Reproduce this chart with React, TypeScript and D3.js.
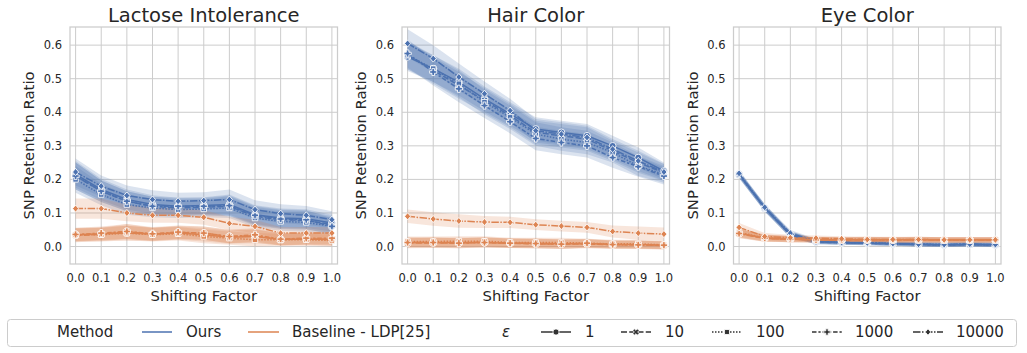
import React from "react";
import * as d3 from "d3";

// ---------- DATA ----------
const shiftingFactors = [0, 0.1, 0.2, 0.3, 0.4, 0.5, 0.6, 0.7, 0.8, 0.9, 1.0];
const epsilonLabels = ["1", "10", "100", "1000", "10000"];
const methodLabels = ["Ours", "Baseline - LDP[25]"];
const panelTitles = ["Lactose Intolerance", "Hair Color", "Eye Color"];
const yTicks = [0.0, 0.1, 0.2, 0.3, 0.4, 0.5, 0.6];
const xTicks = [0, 0.1, 0.2, 0.3, 0.4, 0.5, 0.6, 0.7, 0.8, 0.9, 1.0];

// rows: epsilon 1, 10, 100, 1000, 10000
const lactoseOurs = [
  [0.215, 0.17, 0.14, 0.125, 0.12, 0.122, 0.125, 0.095, 0.085, 0.083, 0.07],
  [0.21, 0.165, 0.135, 0.12, 0.115, 0.117, 0.12, 0.09, 0.08, 0.078, 0.065],
  [0.2, 0.155, 0.125, 0.115, 0.11, 0.112, 0.115, 0.085, 0.075, 0.072, 0.06],
  [0.21, 0.165, 0.135, 0.12, 0.12, 0.12, 0.122, 0.093, 0.082, 0.08, 0.06],
  [0.222, 0.18, 0.152, 0.14, 0.135, 0.137, 0.14, 0.11, 0.098, 0.093, 0.08],
];
const lactoseOursCI = [0.04, 0.032, 0.03, 0.028, 0.025, 0.025, 0.03, 0.028, 0.028, 0.028, 0.025];
const lactoseBase = [
  [0.035, 0.038, 0.04, 0.037, 0.04, 0.035, 0.028, 0.03, 0.022, 0.022, 0.022],
  [0.033, 0.036, 0.045, 0.036, 0.042, 0.04, 0.03, 0.032, 0.02, 0.024, 0.02],
  [0.035, 0.035, 0.04, 0.035, 0.038, 0.03, 0.025, 0.02, 0.02, 0.02, 0.018],
  [0.036, 0.04, 0.045, 0.038, 0.043, 0.04, 0.03, 0.035, 0.022, 0.025, 0.025],
  [0.113, 0.113, 0.1, 0.093, 0.093, 0.087, 0.069, 0.06, 0.04, 0.04, 0.04],
];
const lactoseBaseCI = [0.02, 0.02, 0.022, 0.02, 0.02, 0.02, 0.02, 0.02, 0.018, 0.018, 0.018];
const lactoseBaseCI10k = [0.03, 0.03, 0.025, 0.022, 0.022, 0.022, 0.02, 0.02, 0.018, 0.018, 0.018];

const hairOurs = [
  [0.565, 0.53, 0.49, 0.44, 0.395, 0.35, 0.34, 0.33, 0.3, 0.265, 0.225],
  [0.57, 0.525, 0.48, 0.435, 0.39, 0.34, 0.33, 0.32, 0.285, 0.25, 0.22],
  [0.57, 0.53, 0.485, 0.43, 0.385, 0.335, 0.32, 0.31, 0.28, 0.24, 0.215],
  [0.575, 0.52, 0.47, 0.42, 0.372, 0.322, 0.31, 0.3, 0.265, 0.238, 0.21],
  [0.605, 0.56, 0.505, 0.455, 0.405, 0.345, 0.335, 0.325, 0.29, 0.255, 0.222],
];
const hairOursCI = [0.042, 0.04, 0.04, 0.037, 0.035, 0.035, 0.035, 0.035, 0.03, 0.03, 0.025];
const hairBase = [
  [0.012, 0.012, 0.012, 0.012, 0.01, 0.01, 0.008, 0.009, 0.006, 0.006, 0.004],
  [0.01, 0.011, 0.01, 0.013, 0.01, 0.008, 0.007, 0.008, 0.005, 0.005, 0.003],
  [0.015, 0.015, 0.016, 0.016, 0.012, 0.012, 0.012, 0.01, 0.008, 0.008, 0.005],
  [0.012, 0.012, 0.01, 0.012, 0.01, 0.009, 0.007, 0.01, 0.006, 0.005, 0.004],
  [0.09, 0.082, 0.076, 0.073, 0.072, 0.065, 0.061, 0.057, 0.045, 0.04, 0.037],
];
const hairBaseCI = [0.015, 0.015, 0.015, 0.015, 0.014, 0.014, 0.014, 0.013, 0.012, 0.012, 0.012];
const hairBaseCI10k = [0.02, 0.02, 0.02, 0.018, 0.017, 0.016, 0.016, 0.016, 0.018, 0.02, 0.02];

const eyeOurs = [
  [0.215, 0.115, 0.035, 0.015, 0.012, 0.01, 0.008, 0.006, 0.005, 0.006, 0.005],
  [0.214, 0.114, 0.036, 0.014, 0.011, 0.01, 0.008, 0.006, 0.005, 0.006, 0.005],
  [0.213, 0.116, 0.034, 0.015, 0.012, 0.011, 0.009, 0.007, 0.006, 0.006, 0.005],
  [0.216, 0.115, 0.037, 0.014, 0.011, 0.01, 0.008, 0.006, 0.005, 0.007, 0.005],
  [0.218, 0.117, 0.04, 0.016, 0.012, 0.011, 0.009, 0.007, 0.006, 0.007, 0.006],
];
const eyeOursCI = [0.01, 0.01, 0.009, 0.007, 0.006, 0.006, 0.006, 0.006, 0.006, 0.006, 0.006];
const eyeBase = [
  [0.04, 0.025, 0.022, 0.02, 0.02, 0.02, 0.02, 0.02, 0.02, 0.02, 0.02],
  [0.038, 0.024, 0.022, 0.02, 0.019, 0.02, 0.019, 0.02, 0.019, 0.019, 0.019],
  [0.042, 0.026, 0.023, 0.021, 0.02, 0.021, 0.02, 0.021, 0.02, 0.02, 0.02],
  [0.039, 0.025, 0.022, 0.02, 0.02, 0.02, 0.02, 0.02, 0.02, 0.02, 0.02],
  [0.057, 0.03, 0.026, 0.025, 0.023, 0.021, 0.021, 0.021, 0.02, 0.02, 0.02],
];
const eyeBaseCI = [0.013, 0.01, 0.009, 0.008, 0.008, 0.008, 0.008, 0.008, 0.008, 0.008, 0.008];

// ---------- STYLE ----------
const W = 1027;
const H = 353;
const colors = ["#4c72b0", "#dd8452"];
const dashes = ["", "6,2.25", "1.5,1.5", "4.5,1.9,2.25,1.9", "7.5,1.5,1.5,1.5"];
const markerKinds = ["o", "X", "s", "P", "D"];
const FONT = "'DejaVu Sans', sans-serif";
const TEXT = "#262626";
const GRID = "#cccccc";

const panels = [
  { title: panelTitles[0], left: 70, ours: lactoseOurs, oursCI: [lactoseOursCI], base: lactoseBase, baseCI: [lactoseBaseCI, lactoseBaseCI10k] },
  { title: panelTitles[1], left: 402, ours: hairOurs, oursCI: [hairOursCI], base: hairBase, baseCI: [hairBaseCI, hairBaseCI10k] },
  { title: panelTitles[2], left: 733.5, ours: eyeOurs, oursCI: [eyeOursCI], base: eyeBase, baseCI: [eyeBaseCI] },
];
const PW = 267.5;
const TOP = 27;
const BOTTOM = 264;

function markerPath(kind: string, s: number): string | null {
  if (kind === "o") return null;
  if (kind === "s") {
    const h = s * 0.8;
    return `M${-h},${-h}L${h},${-h}L${h},${h}L${-h},${h}Z`;
  }
  if (kind === "D") {
    const h = s * 1.05;
    return `M0,${-h}L${h * 0.85},0L0,${h}L${-h * 0.85},0Z`;
  }
  // plus-shaped polygon
  const a = s * 1.05;
  const w = s * 0.38;
  const pts = [
    [-w, -a], [w, -a], [w, -w], [a, -w], [a, w], [w, w], [w, a], [-w, a], [-w, w], [-a, w], [-a, -w], [-w, -w],
  ];
  const ang = kind === "X" ? Math.PI / 4 : 0;
  const c = Math.cos(ang), sn = Math.sin(ang);
  return (
    "M" +
    pts.map(([x, y]) => `${(x * c - y * sn).toFixed(2)},${(x * sn + y * c).toFixed(2)}`).join("L") +
    "Z"
  );
}

function Marker({ kind, x, y, fill, s = 3.4, edge = "#ffffff" }: any) {
  const p = markerPath(kind, s);
  if (!p) return <circle cx={x} cy={y} r={s} fill={fill} stroke={edge} strokeWidth={0.85} />;
  return <path d={p} transform={`translate(${x},${y})`} fill={fill} stroke={edge} strokeWidth={0.85} />;
}

function Panel({ p }: any) {
  const x = d3.scaleLinear().domain([0, 1]).range([p.left + 5.6, p.left + PW - 5.6]);
  const y = d3.scaleLinear().domain([-0.052, 0.654]).range([BOTTOM, TOP]);
  const line = d3.line<number>().x((_, i) => x(shiftingFactors[i])).y((d) => y(d));
  const series = [
    { rows: p.ours, ci: p.oursCI, color: colors[0] },
    { rows: p.base, ci: p.baseCI, color: colors[1] },
  ];
  const band = (row: number[], ci: number[]) =>
    d3
      .area<number>()
      .x((_, i) => x(shiftingFactors[i]))
      .y0((d, i) => y(d - ci[i]))
      .y1((d, i) => y(d + ci[i]))(row) as string;
  const cx = p.left + PW / 2;
  const cy = (TOP + BOTTOM) / 2;
  const clipId = `clip-${Math.round(p.left)}`;
  return (
    <g>
      <defs>
        <clipPath id={clipId}>
          <rect x={p.left} y={TOP} width={PW} height={BOTTOM - TOP} />
        </clipPath>
      </defs>
      {yTicks.map((t) => (
        <line key={"gy" + t} x1={p.left} x2={p.left + PW} y1={y(t)} y2={y(t)} stroke={GRID} strokeWidth={1} />
      ))}
      {xTicks.map((t) => (
        <line key={"gx" + t} x1={x(t)} x2={x(t)} y1={TOP} y2={BOTTOM} stroke={GRID} strokeWidth={1} />
      ))}
      <g clipPath={`url(#${clipId})`}>
        {series.map((s, si) =>
          s.rows.map((row: number[], ri: number) => (
            <path
              key={`b${si}-${ri}`}
              d={band(row, s.ci[Math.min(ri === 4 ? 1 : 0, s.ci.length - 1)])}
              fill={s.color}
              fillOpacity={0.2}
              stroke="none"
            />
          ))
        )}
        {series.map((s, si) =>
          s.rows.map((row: number[], ri: number) => (
            <g key={`l${si}-${ri}`}>
              <path
                d={line(row) as string}
                fill="none"
                stroke={s.color}
                strokeWidth={1.5}
                strokeDasharray={dashes[ri]}
              />
              {row.map((v: number, i: number) => (
                <Marker key={i} kind={markerKinds[ri]} x={x(shiftingFactors[i])} y={y(v)} fill={s.color} />
              ))}
            </g>
          ))
        )}
      </g>
      <rect x={p.left} y={TOP} width={PW} height={BOTTOM - TOP} fill="none" stroke={GRID} strokeWidth={1.25} />
      {yTicks.map((t) => (
        <text key={"ty" + t} x={p.left - 8} y={y(t)} dy="0.35em" textAnchor="end" fontSize={11.5} fill={TEXT} fontFamily={FONT}>
          {t.toFixed(1)}
        </text>
      ))}
      {xTicks.map((t) => (
        <text key={"tx" + t} x={x(t)} y={282} textAnchor="middle" fontSize={11.5} fill={TEXT} fontFamily={FONT}>
          {t.toFixed(1)}
        </text>
      ))}
      <text x={cx} y={301} textAnchor="middle" fontSize={14.8} fill={TEXT} fontFamily={FONT}>
        Shifting Factor
      </text>
      <text
        transform={`translate(${p.left - 36},${cy}) rotate(-90)`}
        textAnchor="middle"
        fontSize={14.8}
        fill={TEXT}
        fontFamily={FONT}
      >
        SNP Retention Ratio
      </text>
      <text x={cx} y={22} textAnchor="middle" fontSize={19.5} fill={TEXT} fontFamily={FONT}>
        {p.title}
      </text>
    </g>
  );
}

function Legend() {
  const ly = 332;
  const fs = 15;
  const methodPos = [
    { x1: 142, x2: 172, tx: 186 },
    { x1: 248, x2: 279, tx: 292 },
  ];
  const epsPos = [
    { x1: 541, tx: 585 },
    { x1: 621, tx: 665 },
    { x1: 712, tx: 756 },
    { x1: 812, tx: 855 },
    { x1: 913, tx: 956 },
  ];
  return (
    <g fontFamily={FONT} fontSize={fs} fill={TEXT}>
      <rect x={7.5} y={319.5} width={1009} height={27} rx={3} fill="#ffffff" fillOpacity={0.8} stroke={GRID} strokeWidth={1} />
      <text x={57} y={337}>Method</text>
      {methodLabels.map((m, i) => (
        <g key={m}>
          <line x1={methodPos[i].x1} x2={methodPos[i].x2} y1={ly} y2={ly} stroke={colors[i]} strokeWidth={1.5} />
          <text x={methodPos[i].tx} y={337}>{m}</text>
        </g>
      ))}
      <text x={502} y={337} fontStyle="italic">ε</text>
      {epsilonLabels.map((e, i) => (
        <g key={e}>
          <line x1={epsPos[i].x1} x2={epsPos[i].x1 + 30} y1={ly} y2={ly} stroke="#333333" strokeWidth={1.5} strokeDasharray={dashes[i]} />
          <Marker kind={markerKinds[i]} x={epsPos[i].x1 + 15} y={ly} fill="#333333" s={3.1} edge="#ffffff" />
          <text x={epsPos[i].tx} y={337}>{e}</text>
        </g>
      ))}
    </g>
  );
}

export default function App() {
  return (
    <svg width={W} height={H} style={{ position: "absolute", left: 0, top: 0, background: "#ffffff" }}>
      <rect x={0} y={0} width={W} height={H} fill="#ffffff" />
      {panels.map((p) => (
        <Panel key={p.title} p={p} />
      ))}
      <Legend />
    </svg>
  );
}
